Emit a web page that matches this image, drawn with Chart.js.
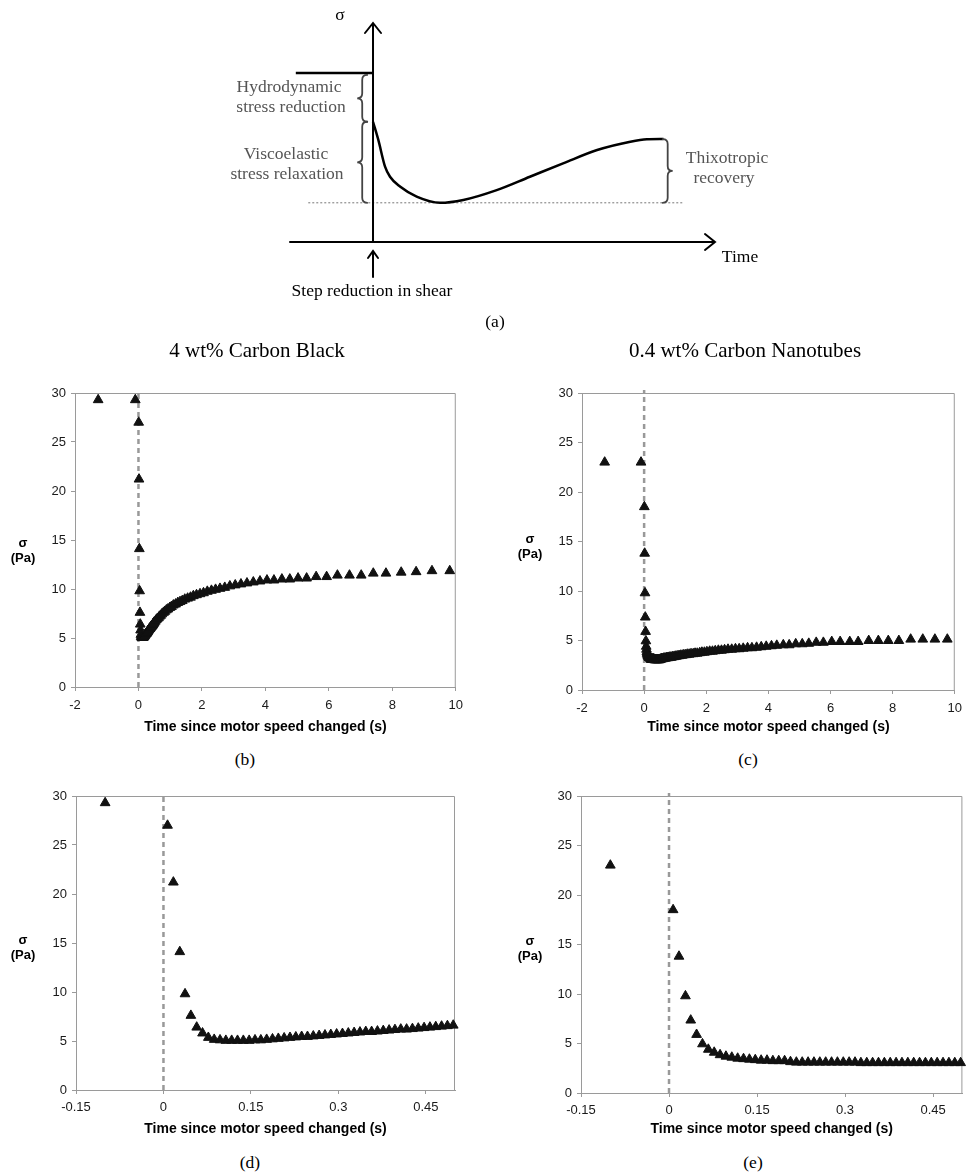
<!DOCTYPE html>
<html>
<head>
<meta charset="utf-8">
<script src="https://cdn.jsdelivr.net/npm/chart.js@4.4.1/dist/chart.umd.min.js"></script>
<style>
  body { margin: 0; background: #fff; width: 969px; height: 1172px; position: relative; overflow: hidden; }
  canvas { position: absolute; }
  .t { position: absolute; transform: translate(-50%, -50%); white-space: nowrap; line-height: 1;
       font-family: "Liberation Serif", "Times New Roman", serif; font-size: 17.5px; color: #000; }
  .g { color: #555; }
  .title { font-size: 21px; }
  .sig { position: absolute; transform: translate(-50%, -50%); text-align: center; line-height: 16px;
         font: bold 13px "Liberation Sans", Arial, sans-serif; color: #000; }
</style>
</head>
<body>
<canvas id="schem" style="left:0;top:0" width="969" height="340"></canvas>
<canvas id="cbWide" style="left:0;top:380px" width="470" height="362"></canvas>
<canvas id="cntWide" style="left:520px;top:380px" width="449" height="362"></canvas>
<canvas id="cbZoom" style="left:0;top:780px" width="470" height="370"></canvas>
<canvas id="cntZoom" style="left:520px;top:780px" width="449" height="370"></canvas>

<!-- schematic labels -->
<div class="t" style="left:340px;top:15px">σ</div>
<div class="t g" style="left:289px;top:87px">Hydrodynamic</div>
<div class="t g" style="left:291px;top:107px">stress reduction</div>
<div class="t g" style="left:286px;top:154px">Viscoelastic</div>
<div class="t g" style="left:287px;top:174px">stress relaxation</div>
<div class="t g" style="left:727px;top:158px">Thixotropic</div>
<div class="t g" style="left:724px;top:178px">recovery</div>
<div class="t" style="left:740px;top:257px">Time</div>
<div class="t" style="left:372px;top:291px">Step reduction in shear</div>
<div class="t" style="left:495px;top:322px">(a)</div>

<!-- panel titles and captions -->
<div class="t title" style="left:257px;top:350px">4 wt% Carbon Black</div>
<div class="t title" style="left:745px;top:350px">0.4 wt% Carbon Nanotubes</div>
<div class="t" style="left:245px;top:760px">(b)</div>
<div class="t" style="left:748px;top:760px">(c)</div>
<div class="t" style="left:250px;top:1163px">(d)</div>
<div class="t" style="left:753px;top:1163px">(e)</div>

<div class="sig" style="left:23px;top:550px">σ<br>(Pa)</div>
<div class="sig" style="left:530px;top:546px">σ<br>(Pa)</div>
<div class="sig" style="left:23px;top:947px">σ<br>(Pa)</div>
<div class="sig" style="left:530px;top:948px">σ<br>(Pa)</div>

<script>
// ---------- DATA ----------
// 4 wt% carbon black: time since motor speed changed (s) and stress (Pa)
const cbTime = [-1.27, -0.1,
  0.007, 0.017, 0.028, 0.037, 0.047, 0.057, 0.067, 0.077, 0.087, 0.097,
  0.107, 0.117, 0.127, 0.137, 0.147, 0.157, 0.167, 0.177, 0.187, 0.197,
  0.207, 0.217, 0.227, 0.237, 0.247, 0.257, 0.267, 0.277, 0.287, 0.297,
  0.307, 0.317, 0.327, 0.337, 0.347, 0.357, 0.367, 0.377, 0.387, 0.397,
  0.407, 0.417, 0.427, 0.437, 0.447, 0.457, 0.467, 0.477, 0.487, 0.497,
  0.53, 0.56, 0.59, 0.63, 0.66, 0.7, 0.74, 0.79, 0.83, 0.88,
  0.93, 0.99, 1.04, 1.1, 1.17, 1.24, 1.31, 1.38, 1.46, 1.55,
  1.64, 1.73, 1.83, 1.94, 2.05, 2.17, 2.3, 2.43, 2.57, 2.72,
  2.88, 3.05, 3.23, 3.42, 3.62, 3.83, 4.05, 4.27, 4.52, 4.77,
  5.03, 5.3, 5.6, 5.93, 6.27, 6.65, 7.02, 7.4, 7.8, 8.28,
  8.75, 9.25, 9.81];
const cbStress = [29.3, 29.3,
  27.0, 21.2, 14.1, 9.8, 7.6, 6.4, 5.8, 5.35, 5.15, 5.1,
  5.05, 5.05, 5.05, 5.05, 5.05, 5.1, 5.1, 5.15, 5.2, 5.25,
  5.3, 5.35, 5.4, 5.45, 5.45, 5.5, 5.55, 5.6, 5.65, 5.7,
  5.75, 5.8, 5.85, 5.9, 5.95, 5.95, 6.0, 6.05, 6.1, 6.15,
  6.2, 6.2, 6.25, 6.3, 6.35, 6.4, 6.45, 6.5, 6.55, 6.6,
  6.7, 6.85, 6.95, 7.05, 7.2, 7.3, 7.45, 7.6, 7.7, 7.85,
  7.95, 8.1, 8.2, 8.35, 8.45, 8.6, 8.7, 8.8, 8.95, 9.05,
  9.15, 9.3, 9.4, 9.5, 9.6, 9.75, 9.85, 9.95, 10.05, 10.15,
  10.3, 10.4, 10.5, 10.6, 10.7, 10.8, 10.9, 10.9, 11.0, 11.0,
  11.1, 11.1, 11.25, 11.25, 11.4, 11.4, 11.4, 11.6, 11.6, 11.7,
  11.75, 11.85, 11.85];

// 0.4 wt% carbon nanotubes
const cntTime = [-1.27, -0.1,
  0.007, 0.017, 0.028, 0.037, 0.047, 0.057, 0.067, 0.077, 0.087, 0.097,
  0.107, 0.117, 0.127, 0.137, 0.147, 0.157, 0.167, 0.177, 0.187, 0.197,
  0.207, 0.217, 0.227, 0.237, 0.247, 0.257, 0.267, 0.277, 0.287, 0.297,
  0.307, 0.317, 0.327, 0.337, 0.347, 0.357, 0.367, 0.377, 0.387, 0.397,
  0.407, 0.417, 0.427, 0.437, 0.447, 0.457, 0.467, 0.477, 0.487, 0.497,
  0.52, 0.54, 0.56, 0.58, 0.61, 0.63, 0.66, 0.69, 0.72, 0.75,
  0.78, 0.81, 0.85, 0.88, 0.92, 0.96, 1.0, 1.04, 1.09, 1.13,
  1.18, 1.23, 1.28, 1.34, 1.39, 1.45, 1.51, 1.58, 1.64, 1.71,
  1.79, 1.86, 1.94, 2.02, 2.11, 2.2, 2.29, 2.39, 2.49, 2.59,
  2.7, 2.82, 2.94, 3.06, 3.19, 3.33, 3.47, 3.62, 3.77, 3.93,
  4.1, 4.27, 4.48, 4.67, 4.88, 5.09, 5.3, 5.54, 5.77, 6.04,
  6.31, 6.62, 6.89, 7.23, 7.54, 7.86, 8.2, 8.58, 8.97, 9.36,
  9.76];
const cntStress = [23.0, 23.0,
  18.5, 13.8, 9.8, 7.35, 5.9, 4.95, 4.4, 4.1, 3.85, 3.7,
  3.6, 3.5, 3.45, 3.4, 3.35, 3.3, 3.3, 3.25, 3.25, 3.25,
  3.15, 3.1, 3.1, 3.1, 3.1, 3.1, 3.1, 3.1, 3.1, 3.1,
  3.1, 3.1, 3.05, 3.05, 3.05, 3.05, 3.05, 3.05, 3.05, 3.05,
  3.05, 3.05, 3.05, 3.05, 3.05, 3.05, 3.05, 3.05, 3.05, 3.05,
  3.1, 3.1, 3.15, 3.15, 3.15, 3.2, 3.2, 3.2, 3.25, 3.25,
  3.25, 3.3, 3.3, 3.3, 3.35, 3.35, 3.4, 3.4, 3.45, 3.45,
  3.5, 3.5, 3.55, 3.55, 3.6, 3.6, 3.65, 3.65, 3.7, 3.7,
  3.75, 3.8, 3.8, 3.85, 3.9, 3.9, 3.95, 4.0, 4.0, 4.05,
  4.1, 4.1, 4.15, 4.15, 4.2, 4.25, 4.25, 4.3, 4.35, 4.4,
  4.45, 4.5, 4.55, 4.55, 4.65, 4.65, 4.7, 4.8, 4.8, 4.88,
  4.88, 4.88, 4.88, 4.98, 4.98, 4.98, 4.98, 5.12, 5.12, 5.12,
  5.12];

// schematic (a): arbitrary time / stress units
const schemTime = [0, 0.064, 0.145, 0.205, 0.325, 0.526, 0.807, 1.088, 1.49, 1.89, 2.29, 2.7, 3.1, 3.3, 3.5];
const schemStress = [5.49, 4.66, 3.44, 2.98, 2.53, 2.07, 1.79, 1.92, 2.37, 2.98, 3.59, 4.2, 4.58, 4.69, 4.7];
const initialStress = 7.72;
const initialTime = [-0.93, 0];
const baselineTime = [-0.78, 3.74];
const minStress = 1.79;
const recoveredStress = 4.7;

const stepTime = [0, 0];         // vertical dashed marker at t = 0
const stepStress = [0, 30.3];

const sansFont = "'Liberation Sans', Arial, sans-serif";
const toPts = (xs, ys) => xs.map((x, i) => ({ x: x, y: ys[i] }));

/* ================= SCHEMATIC (a) ================= */
function brace(ctx, x, y1, y2, dir, w) {
  const ym = (y1 + y2) / 2;
  const q = w / 2;
  ctx.beginPath();
  ctx.moveTo(x - dir * q, y1);
  ctx.quadraticCurveTo(x, y1, x, y1 + q);
  ctx.lineTo(x, ym - q);
  ctx.quadraticCurveTo(x, ym, x + dir * q, ym);
  ctx.quadraticCurveTo(x, ym, x, ym + q);
  ctx.lineTo(x, y2 - q);
  ctx.quadraticCurveTo(x, y2, x - dir * q, y2);
  ctx.stroke();
}

const schemDecor = {
  id: "schemDecor",
  afterDraw(chart) {
    const { ctx, chartArea: a, scales: { x, y } } = chart;
    const x0 = x.getPixelForValue(0);
    const y0 = y.getPixelForValue(0);
    ctx.save();
    ctx.strokeStyle = "#000";
    ctx.lineWidth = 2;
    ctx.lineCap = "round";
    ctx.beginPath();
    // time axis + arrowhead
    ctx.moveTo(a.left, y0); ctx.lineTo(a.right, y0);
    ctx.moveTo(a.right - 10, y0 - 8); ctx.lineTo(a.right, y0); ctx.lineTo(a.right - 10, y0 + 8);
    // stress axis + arrowhead
    ctx.moveTo(x0, y0); ctx.lineTo(x0, a.top);
    ctx.moveTo(x0 - 8, a.top + 10); ctx.lineTo(x0, a.top); ctx.lineTo(x0 + 8, a.top + 10);
    // step arrow under the axis
    ctx.moveTo(x0, y0 + 35); ctx.lineTo(x0, y0 + 9);
    ctx.moveTo(x0 - 5, y0 + 16); ctx.lineTo(x0, y0 + 9); ctx.lineTo(x0 + 5, y0 + 16);
    ctx.stroke();

    // braces
    ctx.strokeStyle = "#444";
    ctx.lineWidth = 1.8;
    const bx = x.getPixelForValue(-0.13);
    brace(ctx, bx, y.getPixelForValue(initialStress) + 2, y.getPixelForValue(schemStress[0]), -1, 10);
    brace(ctx, bx, y.getPixelForValue(schemStress[0]), y.getPixelForValue(minStress), -1, 10);
    brace(ctx, x.getPixelForValue(3.55), y.getPixelForValue(recoveredStress), y.getPixelForValue(minStress), 1, 10);
    ctx.restore();
  }
};

new Chart(document.getElementById("schem"), {
  type: "scatter",
  data: {
    datasets: [
      { data: toPts(schemTime, schemStress), showLine: true, borderColor: "#000", borderWidth: 2.5,
        pointRadius: 0, cubicInterpolationMode: "monotone", clip: false },
      { data: toPts(initialTime, [initialStress, initialStress]), showLine: true, borderColor: "#000",
        borderWidth: 2.5, pointRadius: 0, clip: false },
      { data: toPts(baselineTime, [minStress, minStress]), showLine: true, borderColor: "#777",
        borderWidth: 1, borderDash: [2, 2], pointRadius: 0, clip: false }
    ]
  },
  options: {
    responsive: false,
    animation: false,
    layout: { padding: { left: 290, right: 254, top: 23, bottom: 98 } },
    plugins: { legend: { display: false }, tooltip: { enabled: false } },
    scales: {
      x: { type: "linear", display: false, min: -1, max: 4.12 },
      y: { type: "linear", display: false, min: 0, max: 10 }
    }
  },
  plugins: [schemDecor]
});

/* ================= DATA PANELS (b)-(e) ================= */
const frame = {
  id: "frame",
  beforeDatasetsDraw(chart) {
    const { ctx, chartArea: a } = chart;
    ctx.save();
    ctx.strokeStyle = "#9a9a9a";
    ctx.lineWidth = 1;
    ctx.beginPath();
    ctx.moveTo(a.left, a.top + 0.5); ctx.lineTo(a.right - 0.5, a.top + 0.5); ctx.lineTo(a.right - 0.5, a.bottom);
    ctx.stroke();
    ctx.restore();
  }
};

function stressChart(id, times, stress, xMin, xMax, xStep, yW, xH, pad, tickPad) {
  const pts = toPts(times, stress).filter(p => p.x >= xMin && p.x <= xMax);
  return new Chart(document.getElementById(id), {
    type: "scatter",
    data: {
      datasets: [
        { data: pts, pointStyle: "triangle", pointRadius: 5.6, borderWidth: 1,
          backgroundColor: "#111", borderColor: "#111", clip: false },
        { data: toPts(stepTime, stepStress), showLine: true, borderColor: "#999", borderWidth: 2.5,
          borderDash: [5, 4], pointRadius: 0, clip: false }
      ]
    },
    options: {
      responsive: false,
      animation: false,
      layout: { padding: pad },
      plugins: { legend: { display: false }, tooltip: { enabled: false } },
      scales: {
        x: {
          type: "linear", min: xMin, max: xMax,
          afterFit: s => { s.height = xH; },
          ticks: { stepSize: xStep, includeBounds: false, autoSkip: false, maxRotation: 0,
                   padding: tickPad, color: "#1a1a1a", font: { family: sansFont, size: 13 },
                   callback: v => +v.toFixed(2) },
          grid: { drawOnChartArea: false, color: "#9a9a9a", tickLength: 4 },
          border: { color: "#9a9a9a" },
          title: { display: true, text: "Time since motor speed changed (s)", color: "#000",
                   font: { family: sansFont, size: 14, weight: "bold" }, padding: { top: 0, bottom: 1 } }
        },
        y: {
          type: "linear", min: 0, max: 30,
          afterFit: s => { s.width = yW; },
          ticks: { stepSize: 5, padding: 5, color: "#1a1a1a", font: { family: sansFont, size: 13 } },
          grid: { drawOnChartArea: false, color: "#9a9a9a", tickLength: 4 },
          border: { color: "#9a9a9a" }
        }
      }
    },
    plugins: [frame]
  });
}

stressChart("cbWide", cbTime, cbStress, -2, 10, 2, 75, 50, { top: 13, right: 12, bottom: 5, left: 0 }, 7);
stressChart("cntWide", cntTime, cntStress, -2, 10, 2, 62, 47, { top: 13, right: 8, bottom: 5, left: 0 }, 7);
stressChart("cbZoom", cbTime, cbStress, -0.15, 0.5, 0.15, 76, 49, { top: 16, right: 15, bottom: 11, left: 0 }, 6);
stressChart("cntZoom", cntTime, cntStress, -0.15, 0.5, 0.15, 61, 46, { top: 16, right: 6, bottom: 11, left: 0 }, 6);
</script>
</body>
</html>
